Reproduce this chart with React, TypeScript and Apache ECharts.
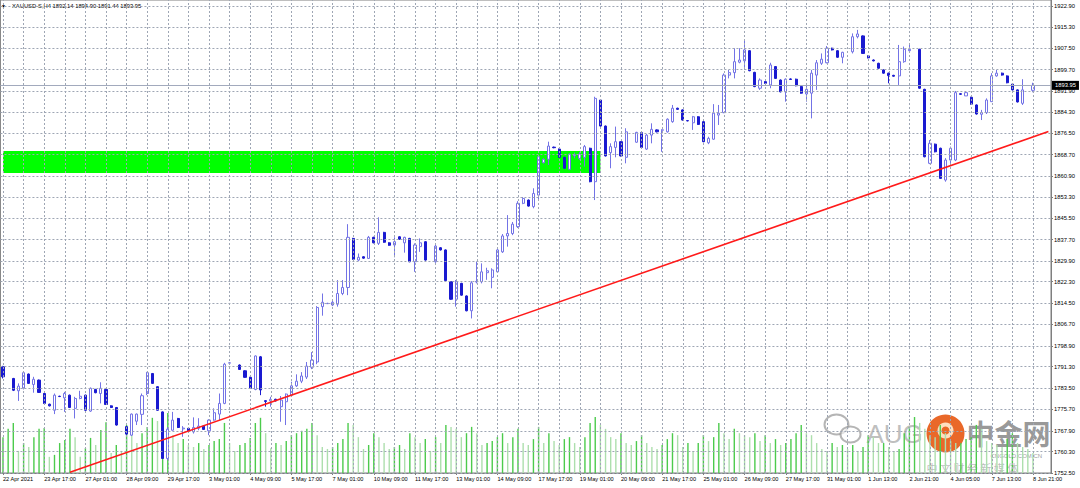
import React, { useEffect, useRef } from "react";
import * as echarts from "echarts";

const symbolTitle = "XAUUSD-S,H4 1892.14 1894.90 1891.44 1893.95";

const timeLabels = [
  "22 Apr 2021", "23 Apr 17:00", "27 Apr 01:00", "28 Apr 09:00", "29 Apr 17:00",
  "3 May 01:00", "4 May 09:00", "5 May 17:00", "7 May 01:00", "10 May 09:00",
  "11 May 17:00", "13 May 01:00", "14 May 09:00", "17 May 17:00", "19 May 01:00",
  "20 May 09:00", "21 May 17:00", "25 May 01:00", "26 May 09:00", "27 May 17:00",
  "31 May 01:00", "1 Jun 13:00", "2 Jun 21:00", "4 Jun 05:00", "7 Jun 13:00", "8 Jun 21:00",
];

const priceTicks = [
  1752.5, 1760.3, 1767.9, 1775.7, 1783.5, 1791.3, 1798.9, 1806.7, 1814.5, 1822.3, 1829.9,
  1837.7, 1845.5, 1853.3, 1860.9, 1868.7, 1876.5, 1884.3, 1891.9, 1899.7, 1907.5, 1915.3, 1922.9,
];

// [open, close, low, high]
const candles: (number[] | null)[] = [
  [1791.3, 1787.6, 1787.0, 1791.6], null, [1787.0, 1782.7, 1782.4, 1787.2], [1782.5, 1784.2, 1778.8, 1785.2],
  [1783.4, 1789.1, 1783.0, 1789.5], [1788.6, 1785.2, 1785.0, 1788.8], [1784.8, 1786.7, 1781.8, 1787.6], [1786.4, 1781.9, 1781.7, 1786.6],
  [1781.5, 1777.9, 1777.7, 1781.7], [1777.6, 1777.0, 1776.8, 1777.8], [1775.4, 1780.9, 1774.0, 1781.5], [1780.5, 1780.4, 1780.2, 1780.7],
  [1779.9, 1781.5, 1774.8, 1782.1], [1780.9, 1776.4, 1776.2, 1781.1], [1776.1, 1779.7, 1772.4, 1780.3], [1779.7, 1780.5, 1779.4, 1782.5],
  [1780.9, 1775.4, 1775.2, 1781.1], [1775.1, 1783.4, 1774.8, 1783.7], [1783.0, 1781.8, 1781.6, 1783.2], [1781.5, 1783.4, 1777.9, 1785.6],
  [1783.0, 1777.5, 1777.3, 1783.2], [1777.0, 1776.4, 1776.2, 1777.2], [1776.4, 1770.0, 1769.8, 1776.6], null,
  [1769.4, 1766.7, 1766.5, 1769.6], [1766.3, 1774.0, 1766.0, 1774.2], [1771.4, 1774.0, 1770.0, 1774.2], [1773.9, 1780.7, 1770.0, 1781.5],
  [1781.5, 1789.1, 1780.9, 1789.4], [1788.8, 1785.2, 1785.0, 1789.0], [1784.0, 1775.4, 1775.2, 1784.2], [1774.8, 1757.8, 1757.6, 1775.0],
  [1757.8, 1768.5, 1757.2, 1769.2], [1768.1, 1771.8, 1768.0, 1774.8], [1772.4, 1769.1, 1768.9, 1772.6], [1768.6, 1768.9, 1765.7, 1769.6],
  [1768.8, 1767.9, 1767.7, 1769.0], [1767.5, 1769.1, 1766.9, 1772.8], [1768.8, 1769.6, 1768.1, 1772.5], [1769.6, 1768.4, 1768.2, 1769.8],
  [1767.9, 1771.8, 1766.3, 1772.1], [1771.8, 1774.5, 1771.6, 1776.1], [1774.0, 1777.9, 1771.8, 1781.5], [1777.9, 1792.2, 1777.6, 1792.7],
  [1792.6, 1792.7, 1792.5, 1792.9], null, [1791.9, 1790.3, 1790.1, 1792.1], [1789.8, 1787.4, 1787.2, 1790.0],
  [1787.4, 1783.4, 1783.2, 1787.6], [1783.0, 1795.2, 1782.7, 1795.4], [1794.9, 1782.8, 1780.9, 1795.2], [1778.9, 1778.6, 1776.7, 1779.1],
  [1778.8, 1779.4, 1776.7, 1780.3], [1779.4, 1778.8, 1778.6, 1779.6], [1776.7, 1779.1, 1771.2, 1780.6], [1778.5, 1781.3, 1770.0, 1781.5],
  [1780.9, 1784.3, 1780.6, 1785.8], [1784.3, 1786.0, 1783.9, 1788.5], [1786.0, 1787.9, 1785.3, 1789.3], [1787.5, 1791.5, 1786.8, 1793.0],
  [1791.1, 1793.7, 1790.4, 1796.6], [1793.0, 1812.9, 1792.2, 1813.4], [1813.2, 1814.8, 1809.9, 1818.0], [1814.3, 1814.4, 1814.2, 1814.6],
  [1813.8, 1814.8, 1813.4, 1815.6], [1814.1, 1818.0, 1813.2, 1822.9], [1818.0, 1820.2, 1817.4, 1822.9], [1820.2, 1838.5, 1817.4, 1843.3],
  [1838.1, 1830.5, 1830.3, 1838.3], [1830.2, 1831.2, 1829.8, 1832.6], [1831.4, 1830.9, 1830.7, 1831.6], [1830.8, 1838.5, 1830.6, 1839.0],
  [1838.5, 1836.5, 1836.3, 1838.7], [1836.3, 1840.3, 1835.7, 1845.8], [1840.3, 1836.7, 1836.5, 1840.5], [1836.5, 1835.6, 1835.4, 1836.7],
  [1835.7, 1836.9, 1831.2, 1838.5], [1838.7, 1837.8, 1837.6, 1838.9], [1836.5, 1838.5, 1832.9, 1838.7], [1838.1, 1829.6, 1829.4, 1838.3],
  [1829.6, 1835.7, 1825.9, 1836.3], [1835.1, 1836.5, 1833.2, 1838.1], [1836.9, 1830.2, 1830.0, 1837.1], null,
  [1829.6, 1835.3, 1829.2, 1835.7], [1834.7, 1833.9, 1833.7, 1834.9], [1833.9, 1822.7, 1822.5, 1834.1], [1822.3, 1815.9, 1815.7, 1822.5],
  [1815.9, 1822.3, 1813.2, 1822.9], [1821.7, 1817.4, 1817.2, 1821.9], [1817.1, 1811.7, 1811.5, 1817.3], [1811.7, 1821.9, 1808.9, 1822.5],
  [1822.2, 1822.4, 1821.7, 1829.6], [1822.3, 1825.9, 1821.7, 1829.0], [1825.6, 1826.3, 1823.0, 1827.4], [1823.9, 1826.6, 1819.9, 1827.2],
  [1825.9, 1833.9, 1825.5, 1834.6], [1833.2, 1839.0, 1832.8, 1839.7], [1839.0, 1839.9, 1835.1, 1846.6], [1839.9, 1843.3, 1839.3, 1844.1],
  [1842.4, 1850.9, 1841.9, 1851.7], [1850.9, 1852.7, 1850.6, 1853.2], [1852.1, 1849.9, 1849.7, 1852.3], [1849.7, 1854.5, 1849.1, 1856.4],
  [1853.9, 1867.9, 1852.1, 1868.5], [1865.7, 1867.0, 1865.5, 1867.3], [1867.0, 1871.8, 1864.9, 1873.4], [1871.4, 1871.2, 1871.0, 1871.6],
  [1870.7, 1867.7, 1867.5, 1870.9], [1867.7, 1863.7, 1863.5, 1867.9], [1863.3, 1868.9, 1863.0, 1869.1], [1868.2, 1868.6, 1867.3, 1869.4],
  [1867.3, 1868.9, 1866.7, 1869.7], [1867.7, 1871.6, 1864.3, 1872.2], [1871.0, 1858.8, 1858.6, 1871.2], [1858.8, 1889.2, 1852.1, 1889.8],
  [1888.6, 1879.1, 1878.9, 1888.8], [1879.1, 1868.2, 1868.0, 1879.3], [1869.4, 1871.6, 1863.7, 1872.8], [1871.3, 1873.4, 1867.7, 1878.9],
  [1873.4, 1868.2, 1868.0, 1873.6], [1867.7, 1877.0, 1865.5, 1878.3], null, [1873.2, 1876.8, 1873.0, 1877.0],
  [1876.7, 1871.3, 1871.1, 1876.9], [1870.7, 1875.8, 1870.4, 1876.2], [1875.8, 1877.9, 1872.8, 1880.1], [1877.7, 1877.0, 1876.8, 1877.9],
  [1877.6, 1877.7, 1869.7, 1877.9], [1877.0, 1881.6, 1876.7, 1881.9], [1880.7, 1885.6, 1880.3, 1886.8], [1885.6, 1885.2, 1885.0, 1885.8],
  [1885.0, 1881.3, 1881.1, 1885.2], [1881.1, 1881.0, 1880.8, 1881.2], [1880.3, 1882.5, 1877.7, 1882.8], [1882.5, 1879.7, 1879.5, 1882.7],
  [1880.7, 1873.4, 1873.2, 1880.9], [1873.0, 1874.6, 1872.5, 1875.2], [1874.3, 1883.8, 1874.1, 1887.1], [1883.1, 1883.8, 1879.5, 1886.8],
  [1884.0, 1897.7, 1883.8, 1898.3], [1897.7, 1898.6, 1896.5, 1899.6], [1898.6, 1902.6, 1896.5, 1907.5], [1902.4, 1903.2, 1902.0, 1907.5],
  [1902.9, 1906.9, 1899.6, 1910.2], [1906.6, 1899.3, 1899.1, 1906.8], [1898.7, 1893.5, 1893.3, 1898.9], [1892.9, 1895.9, 1892.3, 1896.5],
  [1895.3, 1894.7, 1894.5, 1895.5], [1894.1, 1901.4, 1892.9, 1902.2], [1900.8, 1896.5, 1896.3, 1901.0], [1895.9, 1891.6, 1891.4, 1896.1],
  [1891.6, 1896.2, 1888.0, 1896.5], [1896.3, 1896.1, 1896.0, 1896.5], [1896.2, 1893.8, 1893.6, 1896.4], [1893.5, 1891.1, 1890.9, 1893.7],
  [1890.8, 1892.5, 1888.0, 1894.7], [1891.1, 1898.4, 1881.9, 1899.6], [1897.7, 1902.2, 1892.3, 1903.2], [1902.0, 1903.5, 1901.4, 1905.6],
  [1902.2, 1907.5, 1902.0, 1908.3], [1907.5, 1906.9, 1906.7, 1907.7], [1906.6, 1904.2, 1904.0, 1906.8], [1904.2, 1906.0, 1902.0, 1906.2],
  null, [1906.2, 1911.7, 1905.6, 1912.9], [1911.7, 1912.7, 1911.1, 1914.2], [1912.0, 1905.6, 1905.4, 1912.2],
  [1904.7, 1904.0, 1903.8, 1904.9], [1903.2, 1902.9, 1902.7, 1903.4], [1902.0, 1900.2, 1900.0, 1902.2], [1899.6, 1898.4, 1898.2, 1899.8],
  [1898.4, 1897.5, 1894.7, 1898.6], [1897.6, 1897.3, 1897.1, 1897.8], [1897.4, 1902.6, 1894.1, 1908.7], [1902.6, 1907.1, 1902.2, 1908.1],
  [1906.6, 1907.1, 1906.2, 1908.7], null, [1907.1, 1892.9, 1892.7, 1907.3], [1892.5, 1867.9, 1867.7, 1892.7],
  [1865.5, 1872.8, 1865.2, 1874.0], [1872.5, 1869.7, 1869.5, 1872.7], [1871.0, 1860.0, 1859.8, 1871.2], [1859.4, 1866.7, 1858.8, 1867.4],
  [1866.7, 1871.0, 1865.6, 1871.6], [1866.7, 1891.3, 1866.3, 1891.9], [1890.9, 1890.7, 1890.5, 1891.1], [1890.1, 1891.3, 1890.1, 1891.6],
  [1889.6, 1887.1, 1886.9, 1889.8], [1886.8, 1883.5, 1883.3, 1887.0], [1883.4, 1884.0, 1881.3, 1885.0], [1884.0, 1888.6, 1883.5, 1889.2],
  [1888.0, 1897.4, 1887.9, 1898.4], [1897.4, 1898.4, 1897.1, 1899.6], [1898.4, 1897.7, 1897.5, 1898.6], [1897.4, 1894.9, 1894.7, 1897.6],
  [1894.4, 1892.3, 1892.1, 1894.6], [1892.3, 1887.9, 1887.7, 1892.5], [1887.4, 1892.3, 1886.8, 1896.2], null,
  [1892.14, 1893.95, 1891.44, 1894.9],
];

// tick volumes (estimated)
const volumes = [
  9100, 11200, 12700, 5600, 7600, 6600, 9100, 11200, 11400, 4100, 4600, 7600, 8400, 11200, 9100, 4100,
  6300, 8900, 7100, 10900, 12900, 5100, 7100, 5600, 12200, 9600, 7600, 10100, 11700, 14000, 13200, 14700,
  15200, 9600, 7600, 8600, 7100, 6600, 7600, 6100, 7100, 8100, 8600, 12700, 7600, 5600, 7100, 7600,
  8900, 12700, 14000, 10100, 6300, 7600, 7100, 8100, 9600, 10100, 10700, 11200, 12700, 9600, 6600, 6100,
  6600, 7600, 8600, 12700, 12200, 9100, 6100, 7100, 10100, 9100, 7600, 6100, 6600, 7100, 6100, 10100,
  9100, 7600, 8600, 5600, 9100, 7600, 12200, 11700, 11200, 9100, 10100, 11700, 10100, 7100, 7600, 8100,
  9100, 10100, 7600, 9100, 11200, 7600, 7100, 8600, 11700, 7600, 10100, 8100, 7100, 8600, 9100, 7600,
  6600, 9100, 12700, 14200, 12200, 11200, 9100, 8600, 10100, 7600, 7100, 8100, 9600, 7600, 6600, 6100,
  7100, 8600, 10100, 9600, 6600, 7600, 5600, 7600, 9600, 8100, 9100, 12700, 10100, 8600, 11200, 10100,
  9600, 9100, 10100, 8100, 9600, 7600, 8600, 7100, 7600, 8600, 10100, 12200, 10100, 9600, 7600, 6100,
  5600, 7600, 6600, 7100, 6100, 7100, 5600, 6600, 9600, 9100, 7600, 7600, 6600, 5600, 6100, 10100,
  11700, 14200, 12700, 11200, 9600, 9100, 12200, 10100, 8100, 7600, 7600, 8600, 9100, 12200, 11200, 8100,
  7600, 7100, 6600, 8600, 10100, 7600, 6600, 6100, 5100,
];

const slotCount = 204;
const lastPrice = 1893.95;
const zoneIndex = [0, 116];
const zonePrice = [1862.0, 1870.0];
const trendFrom = [13, 1752.75];
const trendTo = [203, 1877.1];

const FONT = "Liberation Sans";
const GRID_COLOR = "#9ea6b4";

export default function App() {
  const ref = useRef<HTMLDivElement>(null);
  useEffect(() => {
    if (!ref.current) return;
    const chart = echarts.init(ref.current, undefined, { renderer: "svg" });
    const cats = Array.from({ length: slotCount }, (_, i) => String(i));
    const candleData = cats.map((_, i) => {
      const c = candles[i];
      return c ? c : "-";
    });
    const volData = cats.map((_, i) => {
      if (i >= candles.length || i >= volumes.length) return "-";
      const v = volumes[i];
      const prev = i > 0 ? volumes[i - 1] : v;
      return {
        value: v,
        itemStyle: { color: v >= prev ? "#4ccb4c" : "#addfad" },
      };
    });
    const vGrid = cats.map((_, i) => i).filter((i) => i % 4 === 0).map((i) => ({ xAxis: i }));
    const hGrid = priceTicks.map((v) => ({ yAxis: v }));

    chart.setOption({
      animation: false,
      backgroundColor: "#ffffff",
      textStyle: { fontFamily: FONT },
      grid: {
        left: 0,
        right: 29,
        top: 0,
        bottom: 15,
        show: true,
        borderColor: "#7f7f7f",
        borderWidth: 1,
      },
      graphic: [
        { type: "text", left: 1, top: 3, style: { text: "▼", font: `5px ${FONT}`, fill: "#000" } },
        { type: "text", left: 12, top: 3, style: { text: symbolTitle, font: `5.8px ${FONT}`, fill: "#000" } },
        {
          type: "group",
          left: 822,
          top: 412,
          silent: true,
          children: [
            { type: "ellipse", shape: { cx: 14, cy: 16, rx: 12, ry: 10 }, style: { fill: "none", stroke: "rgba(150,150,150,0.7)", lineWidth: 2 } },
            { type: "ellipse", shape: { cx: 28, cy: 26, rx: 10, ry: 8 }, style: { fill: "rgba(255,255,255,0.6)", stroke: "rgba(150,150,150,0.7)", lineWidth: 2 } },
            { type: "text", x: 44, y: 12, style: { text: "AUG", font: `26px ${FONT}`, fill: "rgba(170,170,170,0.75)" } },
            { type: "circle", shape: { cx: 123, cy: 25, r: 19 }, style: { fill: "rgba(232,96,30,0.95)" } },
            { type: "circle", shape: { cx: 123, cy: 22, r: 8 }, style: { fill: "rgba(255,230,200,0.95)" } },
            { type: "circle", shape: { cx: 123, cy: 22, r: 4 }, style: { fill: "rgba(232,96,30,0.95)" } },
            { type: "text", x: 144, y: 10, style: { text: "中金网", font: `bold 28px "Noto Sans CJK SC"`, fill: "rgba(120,120,120,0.75)" } },
            { type: "text", x: 168, y: 44, style: { text: "CNGOLD.COM.CN", font: `6px ${FONT}`, fill: "rgba(130,130,130,0.8)" } },
            { type: "text", x: 104, y: 54, style: { text: "中 文 财 经 新 媒 体", font: `11px "Noto Sans CJK SC"`, fill: "rgba(160,160,160,0.7)" } },
          ],
        },
      ],
      xAxis: {
        type: "category",
        data: cats,
        boundaryGap: true,
        axisLine: { show: true, lineStyle: { color: "#7f7f7f", width: 1 } },
        axisTick: { show: true, interval: 7, alignWithLabel: true, length: 2, lineStyle: { color: "#7f7f7f" } },
        axisLabel: {
          interval: 7,
          align: "left",
          margin: 3,
          fontSize: 5.6,
          color: "#000",
          fontFamily: FONT,
          formatter: (_v: string, idx: number) => (idx % 8 === 0 ? timeLabels[idx / 8] || "" : ""),
        },
        splitLine: { show: false },
      },
      yAxis: [
        {
          type: "value",
          position: "right",
          min: 1752.5,
          max: 1925.1,
          axisLine: { show: true, lineStyle: { color: "#7f7f7f", width: 1 } },
          axisTick: { show: true, length: 2, customValues: priceTicks, lineStyle: { color: "#7f7f7f" } },
          axisLabel: {
            customValues: priceTicks,
            margin: 3,
            fontSize: 5.8,
            color: "#000",
            fontFamily: FONT,
            formatter: (v: number) => v.toFixed(2),
          },
          splitLine: { show: false },
        },
        { type: "value", min: 0, max: 120000, show: false },
      ],
      series: [
        {
          name: "grid",
          type: "line",
          data: [],
          silent: true,
          z: 1,
          markLine: {
            silent: true,
            symbol: "none",
            label: { show: false },
            lineStyle: { color: GRID_COLOR, type: [2, 2], width: 1 },
            data: [...vGrid, ...hGrid],
          },
        },
        {
          name: "zone",
          type: "line",
          data: [],
          silent: true,
          z: 2,
          markArea: {
            silent: true,
            itemStyle: { color: "#00ff00", opacity: 1 },
            data: [[{ xAxis: zoneIndex[0], yAxis: zonePrice[1] }, { xAxis: zoneIndex[1], yAxis: zonePrice[0] }]],
          },
        },
        {
          name: "volume",
          type: "bar",
          yAxisIndex: 1,
          data: volData,
          barWidth: 1.4,
          silent: true,
          z: 2,
        },
        {
          name: "price",
          type: "line",
          data: [],
          silent: true,
          z: 3,
          markLine: {
            silent: true,
            symbol: "none",
            lineStyle: { color: "#a2aabd", type: "solid", width: 1 },
            label: {
              show: true,
              position: "end",
              distance: 1,
              formatter: () => lastPrice.toFixed(2),
              backgroundColor: "#000",
              color: "#fff",
              fontSize: 5.8,
              fontFamily: FONT,
              padding: [2, 3, 1, 3],
            },
            data: [{ yAxis: lastPrice }],
          },
        },
        {
          name: "XAUUSD",
          type: "candlestick",
          data: candleData,
          barWidth: 2.6,
          silent: true,
          z: 4,
          itemStyle: {
            color: "#ffffff",
            color0: "#1a1ad0",
            borderColor: "#7373e6",
            borderColor0: "#1a1ad0",
            borderWidth: 1,
          },
        },
        {
          name: "trend",
          type: "line",
          data: [],
          silent: true,
          z: 5,
          markLine: {
            silent: true,
            symbol: "none",
            label: { show: false },
            lineStyle: { color: "#ff1a1a", type: "solid", width: 1.6 },
            data: [[{ coord: [trendFrom[0], trendFrom[1]] }, { coord: [trendTo[0], trendTo[1]] }]],
          },
        },
      ],
    });
    return () => chart.dispose();
  }, []);
  return (
    <div
      ref={ref}
      style={{ position: "absolute", left: 0, top: 0, width: 1080, height: 488, background: "#fff" }}
    />
  );
}
